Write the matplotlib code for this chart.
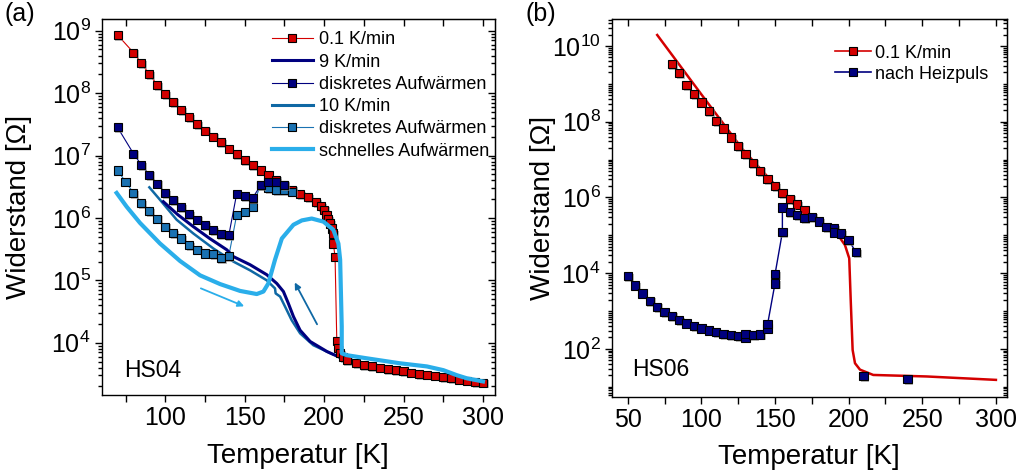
import numpy as np
import matplotlib
matplotlib.use('Agg')
import matplotlib.pyplot as plt
import matplotlib.ticker as mticker
import matplotlib.patheffects as pe
from matplotlib.lines import Line2D

plt.rcParams['font.family'] = ['Liberation Sans', 'DejaVu Sans']
plt.rcParams['mathtext.fontset'] = 'custom'
plt.rcParams['mathtext.rm'] = 'Liberation Sans'
plt.rcParams['mathtext.it'] = 'Liberation Sans:italic'
plt.rcParams['mathtext.bf'] = 'Liberation Sans:bold'

# ---------------- Daten (a) HS04, Widerstand als log10(R/Ohm) ----------------
T_red_a = [70, 80, 85, 90, 95, 100, 105, 110, 115, 120,
           125, 130, 135, 140, 145, 150, 155, 160, 165, 170, 175, 180, 185, 190, 195,
           198, 200, 201.5, 202.7, 203.8, 204.8, 205.5, 205.8, 206.9, 208, 209, 210.1, 212, 214.3,
           220, 225, 230, 235, 240, 245, 250, 255, 260, 265, 270, 275, 280, 285, 290, 295, 300]
logR_red_a = [8.93, 8.65, 8.48, 8.30, 8.13, 7.98, 7.86, 7.73, 7.61, 7.50,
              7.40, 7.30, 7.21, 7.11, 7.02, 6.93, 6.85, 6.76, 6.69, 6.61, 6.53, 6.45, 6.38, 6.33, 6.25,
              6.19, 6.13, 6.05, 5.98, 5.91, 5.83, 5.75, 5.59, 5.38, 4.02, 3.91, 3.83, 3.77, 3.72,
              3.67, 3.64, 3.62, 3.60, 3.58, 3.56, 3.54, 3.52, 3.50, 3.49, 3.47, 3.45, 3.43, 3.41, 3.39, 3.37, 3.36]

T_nv_a = [70, 80, 85, 90, 95, 100, 105, 110, 115, 120, 125, 130, 135, 140,
          145, 150, 155, 160, 165, 170, 175]
logR_nv_a = [7.45, 7.03, 6.85, 6.69, 6.55, 6.40, 6.29, 6.17, 6.06, 5.97, 5.88, 5.80, 5.74, 5.72,
             6.39, 6.35, 6.32, 6.52, 6.58, 6.58, 6.52]

T_tl_a = [70, 75, 80, 85, 90, 95, 100, 105, 110, 115, 120, 125, 130, 135, 140,
          145, 150, 155, 160, 165, 170, 175, 180]
logR_tl_a = [6.76, 6.58, 6.40, 6.24, 6.11, 5.99, 5.86, 5.76, 5.67, 5.56, 5.49, 5.43, 5.42, 5.36, 5.39,
             6.05, 6.10, 6.18, 6.53, 6.48, 6.45, 6.44, 6.42]

T_9 = [98.8, 108, 117.7, 128, 138.7, 142.9, 153.4, 163.9, 170.2, 174.4, 177.5, 180.7,
       184.9, 191.2, 201.7, 212.1, 230, 247.8, 265, 279.3, 300]
logR_9 = [6.26, 6.05, 5.86, 5.67, 5.49, 5.38, 5.25, 5.09, 4.95, 4.82, 4.63, 4.42,
          4.20, 4.02, 3.86, 3.74, 3.63, 3.54, 3.48, 3.43, 3.38]

T_10 = [90, 96.7, 107.2, 117.7, 130.3, 142.9, 153.4, 163.9, 169.1, 169.5, 172.3, 175.4,
        179.6, 184.9, 193.2, 205.8, 225, 247.8, 279, 300]
logR_10 = [6.49, 6.29, 5.97, 5.75, 5.51, 5.30, 5.16, 5.00, 4.87, 4.79, 4.74, 4.58,
           4.36, 4.15, 3.96, 3.81, 3.65, 3.53, 3.42, 3.37]

T_fast = [69.4, 75.7, 84.1, 96.7, 109.3, 121.9, 134.5, 147.1, 157.6, 161.8,
          164.9, 169.1, 173.4, 180.7, 186, 192.2, 199.6, 205.8, 209.0, 210.1,
          210.6, 211.1, 211.1, 214.3, 226.9, 247.8, 264.7, 275.1, 283.5, 289.8, 300]
logR_fast = [6.40, 6.18, 5.92, 5.59, 5.31, 5.08, 4.94, 4.83, 4.78, 4.82,
             4.95, 5.33, 5.67, 5.89, 5.96, 5.99, 5.94, 5.81, 5.59, 5.33,
             4.79, 4.26, 3.83, 3.80, 3.75, 3.67, 3.62, 3.56, 3.48, 3.43, 3.38]

# ---------------- Daten (b) HS06 ----------------
T_red_b_line = [70, 100, 128, 150, 162, 176, 192, 197.5, 200.4, 201.4, 202.7, 204.3, 207.7, 216.7, 253, 300]
logR_red_b_line = [10.29, 8.72, 7.27, 6.33, 5.84, 5.49, 5.05, 4.74, 4.39, 3.29, 1.97, 1.62, 1.45, 1.31, 1.27, 1.18]

T_red_b = [80, 85, 90, 95, 100, 105, 110, 115, 120, 125, 130, 135, 140, 145, 150, 155, 160, 165, 170]
logR_red_b = [9.52, 9.28, 8.97, 8.73, 8.51, 8.28, 8.02, 7.82, 7.58, 7.36, 7.14, 6.91, 6.70, 6.48,
              6.30, 6.11, 5.96, 5.81, 5.65]

T_nv_b = [50, 55, 60, 65, 70, 75, 80, 85, 90, 95, 100, 105, 110, 115, 120, 125,
          130, 130, 135, 140, 145, 145, 150, 150, 155, 155,
          160, 165, 170, 175, 180, 185, 190, 190, 195, 200, 205, 210, 240]
logR_nv_b = [3.92, 3.67, 3.46, 3.27, 3.11, 2.98, 2.87, 2.76, 2.67, 2.60, 2.54, 2.48, 2.44, 2.39, 2.36, 2.34,
             2.30, 2.39, 2.36, 2.38, 2.54, 2.66, 3.73, 3.97, 5.08, 5.73,
             5.62, 5.53, 5.46, 5.49, 5.36, 5.21, 5.18, 5.07, 5.05, 4.87, 4.55, 1.28, 1.20]
n_nv_b_line = 37  # die letzten beiden Punkte ohne Verbindungslinie

labels_a = ['0.1 K/min', '9 K/min', 'diskretes Aufwärmen', '10 K/min',
            'diskretes Aufwärmen', 'schnelles Aufwärmen']
labels_b = ['0.1 K/min', 'nach Heizpuls']

# Farben
c_red = '#d40000'
c_navy = '#00007f'
c_teal = '#1a72b2'
c_teal_line = '#0f68a4'
c_light = '#2aaeea'

shadow = [pe.SimplePatchShadow(offset=(1.2, -1.2), shadow_rgbFace='0.55', alpha=0.6), pe.Normal()]


def R(v):
    return 10 ** np.array(v)


def square_series(ax, T, logR, color, lw=0.8, ms=5.8, line=True):
    if line:
        ax.plot(T, R(logR), '-', color=color, lw=lw, zorder=2)
    ax.plot(T, R(logR), 's', ls='none', ms=ms, mfc=color, mec='k', mew=0.8,
            path_effects=shadow, zorder=3)


def log_fmt(v, pos):
    return r'$\mathregular{10^{%d}}$' % int(round(np.log10(v)))


def style(ax, xlim, ylim, ybase, ylab_x, xlab_y):
    ax.set_yscale('log')
    ax.set_xlim(*xlim)
    ax.set_ylim(*ylim)
    ax.xaxis.set_major_locator(mticker.MultipleLocator(50))
    ax.xaxis.set_minor_locator(mticker.MultipleLocator(25))
    ax.yaxis.set_major_locator(mticker.LogLocator(base=ybase, numticks=30))
    ax.yaxis.set_minor_locator(mticker.LogLocator(base=10, subs=np.arange(1, 10), numticks=60))
    ax.yaxis.set_major_formatter(mticker.FuncFormatter(log_fmt))
    ax.yaxis.set_minor_formatter(mticker.NullFormatter())
    ax.tick_params(which='both', direction='out', width=1, labelsize=18, pad=3)
    ax.tick_params(which='major', length=5)
    ax.tick_params(which='minor', length=3)
    ax.tick_params(axis='x', which='minor', length=5)
    for s in ax.spines.values():
        s.set_linewidth(1)
    sx = ax.secondary_xaxis('top')
    sx.xaxis.set_major_locator(mticker.MultipleLocator(50))
    sx.xaxis.set_minor_locator(mticker.MultipleLocator(25))
    sx.tick_params(which='both', direction='in', length=5, width=1, labeltop=False)
    sy = ax.secondary_yaxis('right')
    sy.yaxis.set_major_locator(mticker.LogLocator(base=ybase, numticks=30))
    sy.yaxis.set_minor_locator(mticker.LogLocator(base=10, subs=np.arange(1, 10), numticks=60))
    sy.tick_params(which='both', direction='in', width=1, labelright=False)
    sy.tick_params(which='major', length=5)
    sy.tick_params(which='minor', length=3)
    ax.set_xlabel('Temperatur [K]', fontsize=20)
    ax.set_ylabel('Widerstand [Ω]', fontsize=20)
    ax.yaxis.set_label_coords(ylab_x, 0.5)
    ax.xaxis.set_label_coords(0.5, xlab_y)


fig = plt.figure(figsize=(10.19, 4.75), dpi=100)
ax1 = fig.add_axes([0.0998, 0.1684, 0.386, 0.7916])
ax2 = fig.add_axes([0.6003, 0.1648, 0.3876, 0.7946])

# ---------------- (a) ----------------
ax1.set_yscale('log')
ax1.plot(T_fast, R(logR_fast), color=c_light, lw=3.0, zorder=4)
ax1.plot(T_10, R(logR_10), color=c_teal_line, lw=1.8, zorder=2.5)
ax1.plot(T_9, R(logR_9), color=c_navy, lw=2.2, zorder=2.6)
square_series(ax1, T_red_a, logR_red_a, c_red)
square_series(ax1, T_tl_a, logR_tl_a, c_teal)
square_series(ax1, T_nv_a, logR_nv_a, c_navy)

ax1.annotate('', xy=(151.3, R(4.567)), xytext=(120.8, R(4.888)),
             arrowprops=dict(arrowstyle='-|>', color=c_light, lw=1.3, mutation_scale=9))
ax1.annotate('', xy=(180.7, R(5.005)), xytext=(196.4, R(4.256)),
             arrowprops=dict(arrowstyle='-|>', color=c_teal_line, lw=1.3, mutation_scale=9))
ax1.text(0.057, 0.066, 'HS04', transform=ax1.transAxes, fontsize=16.5, va='center', ha='left')

style(ax1, (60, 307.6), (10 ** 3.162, 10 ** 9.1875), 10, -0.178, -0.128)

h_a = [Line2D([], [], color=c_red, lw=0.8, marker='s', ms=5.8, mfc=c_red, mec='k', mew=0.8),
       Line2D([], [], color=c_navy, lw=2.2),
       Line2D([], [], color=c_navy, lw=0.8, marker='s', ms=5.8, mfc=c_navy, mec='k', mew=0.8),
       Line2D([], [], color=c_teal_line, lw=2.2),
       Line2D([], [], color=c_teal, lw=0.8, marker='s', ms=5.8, mfc=c_teal, mec='k', mew=0.8),
       Line2D([], [], color=c_light, lw=3.0)]
ax1.legend(h_a, labels_a, loc='upper left', bbox_to_anchor=(0.432, 0.967), frameon=False,
           fontsize=13, handlelength=2.3, handletextpad=0.3, labelspacing=0.29,
           borderpad=0, borderaxespad=0, numpoints=1)

# ---------------- (b) ----------------
ax2.set_yscale('log')
ax2.plot(T_red_b_line, R(logR_red_b_line), color=c_red, lw=1.8, zorder=2)
square_series(ax2, T_red_b, logR_red_b, c_red, ms=6, line=False)
ax2.plot(T_nv_b[:n_nv_b_line], R(logR_nv_b[:n_nv_b_line]), color=c_navy, lw=1.0, zorder=2.5)
square_series(ax2, T_nv_b, logR_nv_b, c_navy, ms=6, line=False)
ax2.text(0.051, 0.071, 'HS06', transform=ax2.transAxes, fontsize=16.5, va='center', ha='left')

style(ax2, (39.1, 307.3), (10 ** 0.735, 10 ** 10.705), 100, -0.14, -0.124)

h_b = [Line2D([], [], color=c_red, lw=1.2, marker='s', ms=6, mfc=c_red, mec='k', mew=0.8),
       Line2D([], [], color=c_navy, lw=1.2, marker='s', ms=6, mfc=c_navy, mec='k', mew=0.8)]
ax2.legend(h_b, labels_b, loc='upper left', bbox_to_anchor=(0.565, 0.933), frameon=False,
           fontsize=13, handlelength=2.0, handletextpad=0.2, labelspacing=0.22,
           borderpad=0, borderaxespad=0, numpoints=1)

fig.text(0.004, 0.995, '(a)', fontsize=18, va='top', ha='left')
fig.text(0.516, 0.995, '(b)', fontsize=18, va='top', ha='left')

fig.savefig('out.png', dpi=100)
